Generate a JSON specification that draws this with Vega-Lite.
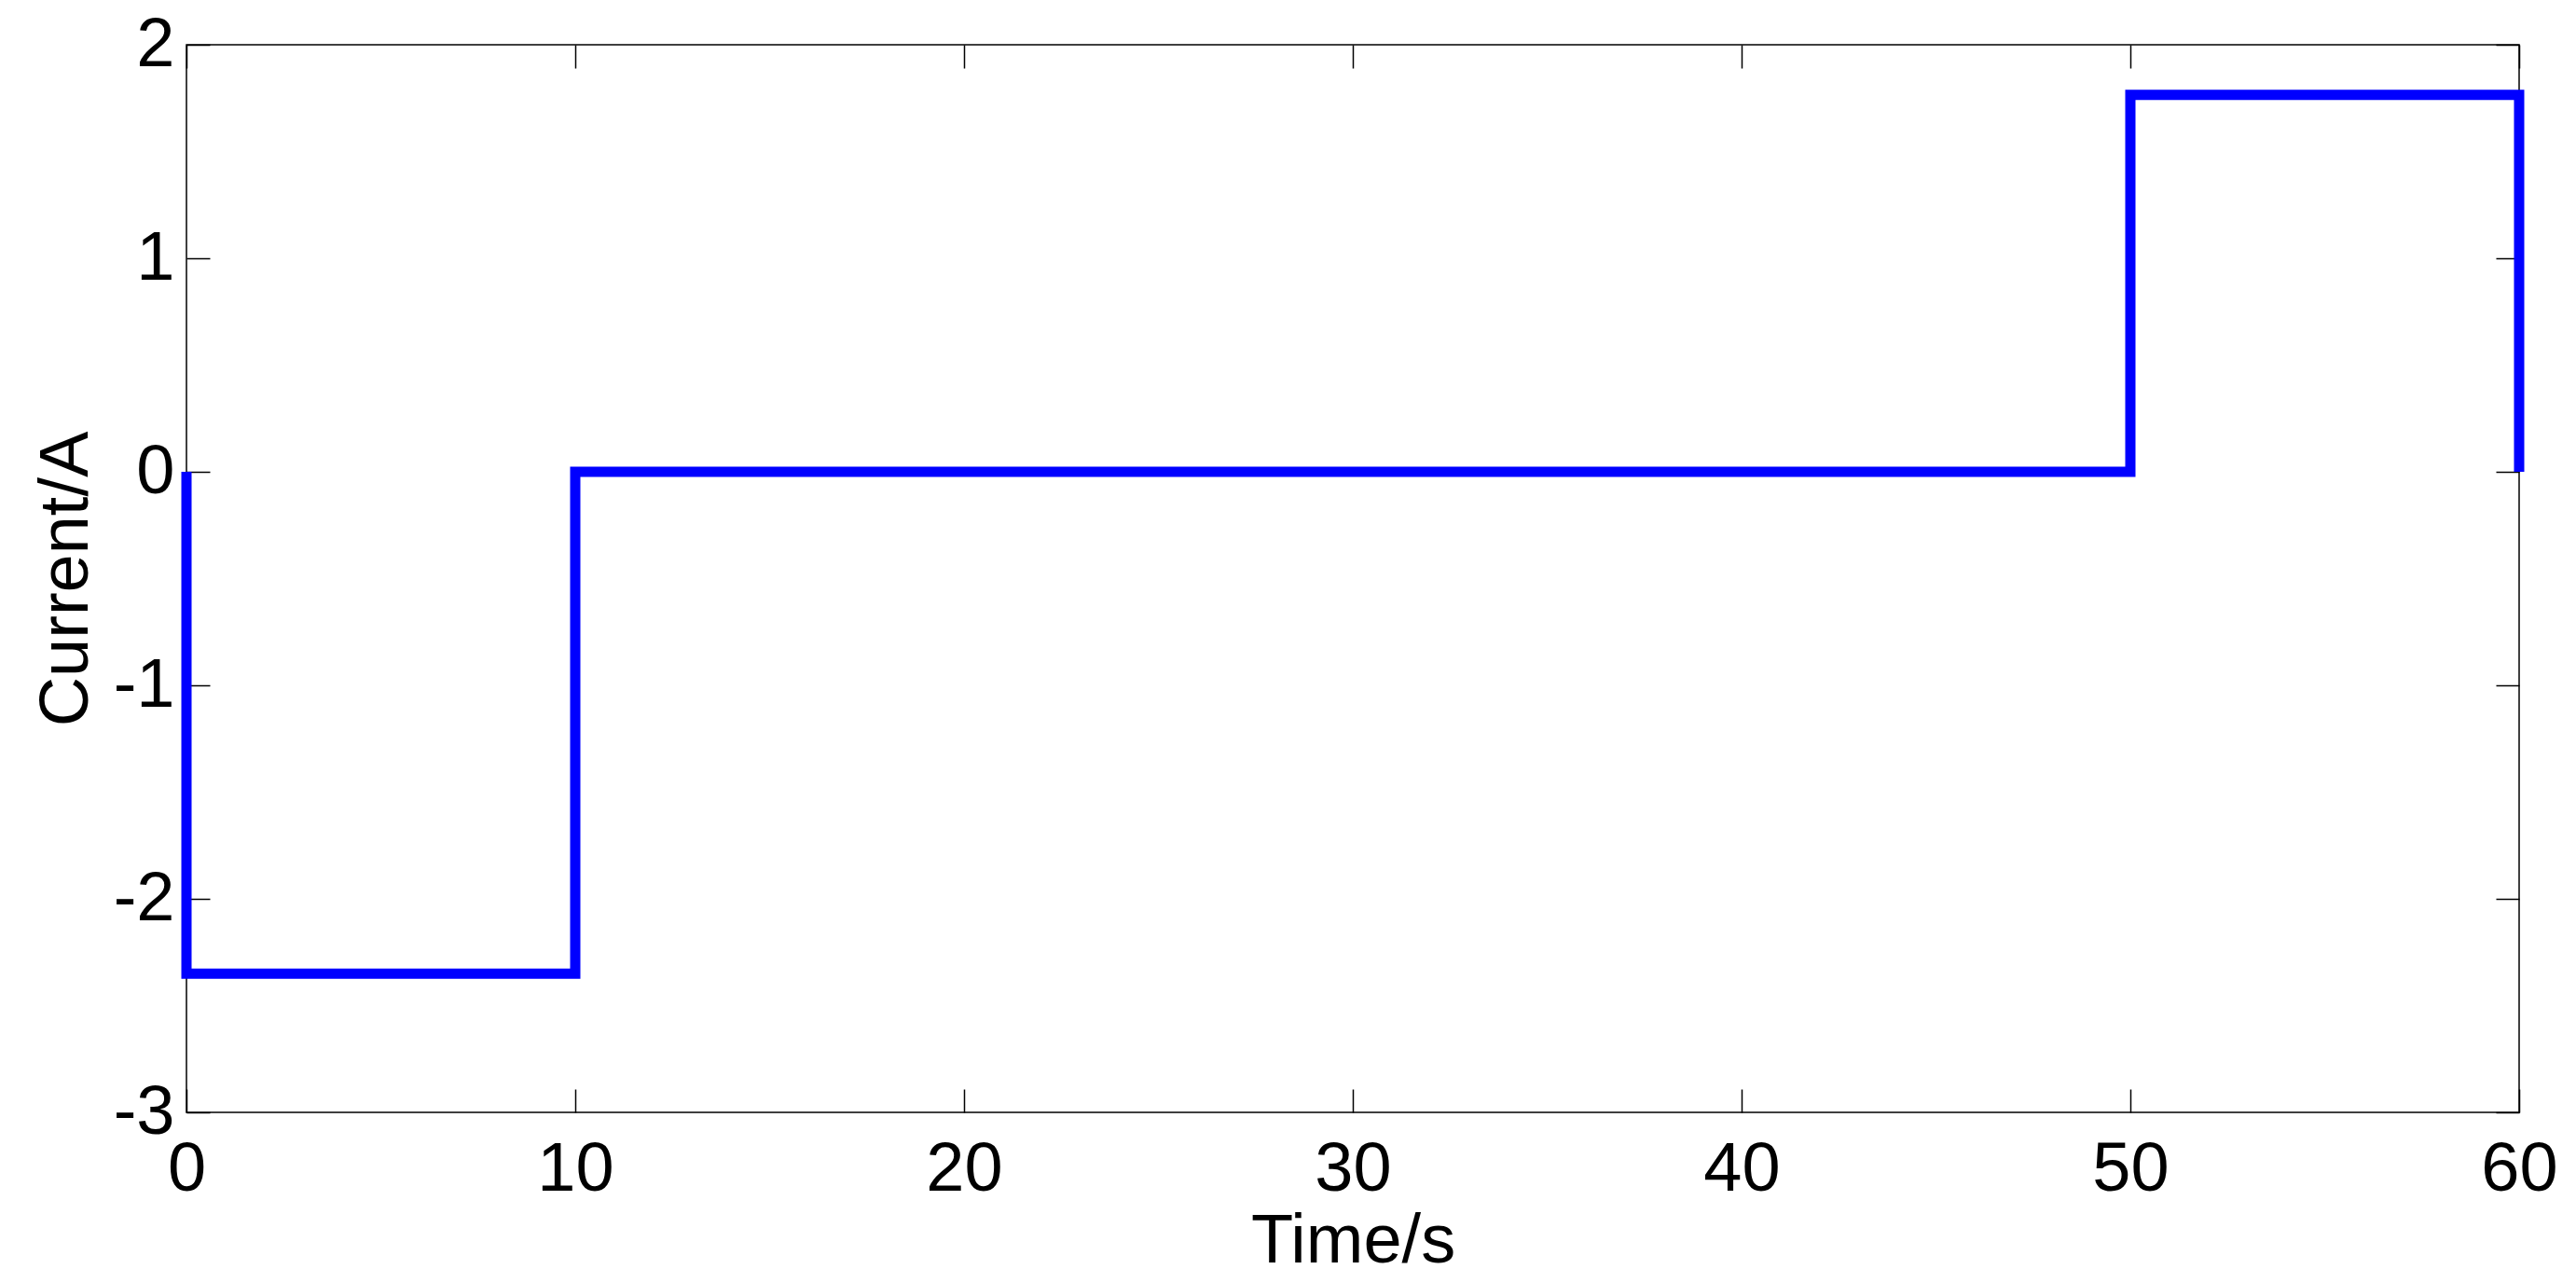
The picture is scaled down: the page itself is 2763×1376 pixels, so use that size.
{
  "$schema": "https://vega.github.io/schema/vega-lite/v6.json",
  "width": 2502,
  "height": 1145,
  "autosize": {"type": "none"},
  "padding": {"left": 200, "top": 48, "right": 61, "bottom": 183},
  "background": "white",
  "config": {
    "view": {"stroke": "black", "strokeWidth": 1.5},
    "font": "Liberation Sans",
    "axis": {
      "labelFont": "Liberation Sans",
      "titleFont": "Liberation Sans",
      "labelFontSize": 74,
      "titleFontSize": 74,
      "labelColor": "black",
      "titleColor": "black",
      "titleFontWeight": "normal",
      "tickColor": "black",
      "tickWidth": 1.5,
      "tickSize": -25,
      "domain": false,
      "grid": false,
      "labelFlush": false,
      "labelOverlap": false
    }
  },
  "data": {
    "values": [
      {"order": 1, "t": 0, "i": 0},
      {"order": 2, "t": 0, "i": -2.35},
      {"order": 3, "t": 10, "i": -2.35},
      {"order": 4, "t": 10, "i": 0},
      {"order": 5, "t": 50, "i": 0},
      {"order": 6, "t": 50, "i": 1.765},
      {"order": 7, "t": 60, "i": 1.765},
      {"order": 8, "t": 60, "i": 0}
    ]
  },
  "layer": [
    {
      "mark": {"type": "line", "color": "#0000ff", "strokeWidth": 11, "strokeCap": "butt", "strokeJoin": "miter", "clip": false},
      "encoding": {
        "x": {"field": "t", "type": "quantitative", "scale": {"domain": [0, 60], "nice": false, "zero": false},
          "axis": {"orient": "bottom", "title": "Time/s", "values": [0, 10, 20, 30, 40, 50, 60], "labelPadding": 50, "titlePadding": 4, "labelExpr": "'' + datum.value"}},
        "y": {"field": "i", "type": "quantitative", "scale": {"domain": [-3, 2], "nice": false, "zero": false},
          "axis": {"orient": "left", "title": "Current/A", "values": [-3, -2, -1, 0, 1, 2], "labelPadding": 38, "titlePadding": 12, "labelExpr": "'' + datum.value"}},
        "order": {"field": "order", "type": "quantitative"}
      }
    },
    {
      "mark": {"type": "line", "opacity": 0},
      "encoding": {
        "x": {"field": "t", "type": "quantitative",
          "axis": {"orient": "top", "title": null, "labels": false, "values": [0, 10, 20, 30, 40, 50, 60]}},
        "y": {"field": "i", "type": "quantitative",
          "axis": {"orient": "right", "title": null, "labels": false, "values": [-3, -2, -1, 0, 1, 2]}},
        "order": {"field": "order", "type": "quantitative"}
      }
    }
  ],
  "resolve": {"axis": {"x": "independent", "y": "independent"}}
}
